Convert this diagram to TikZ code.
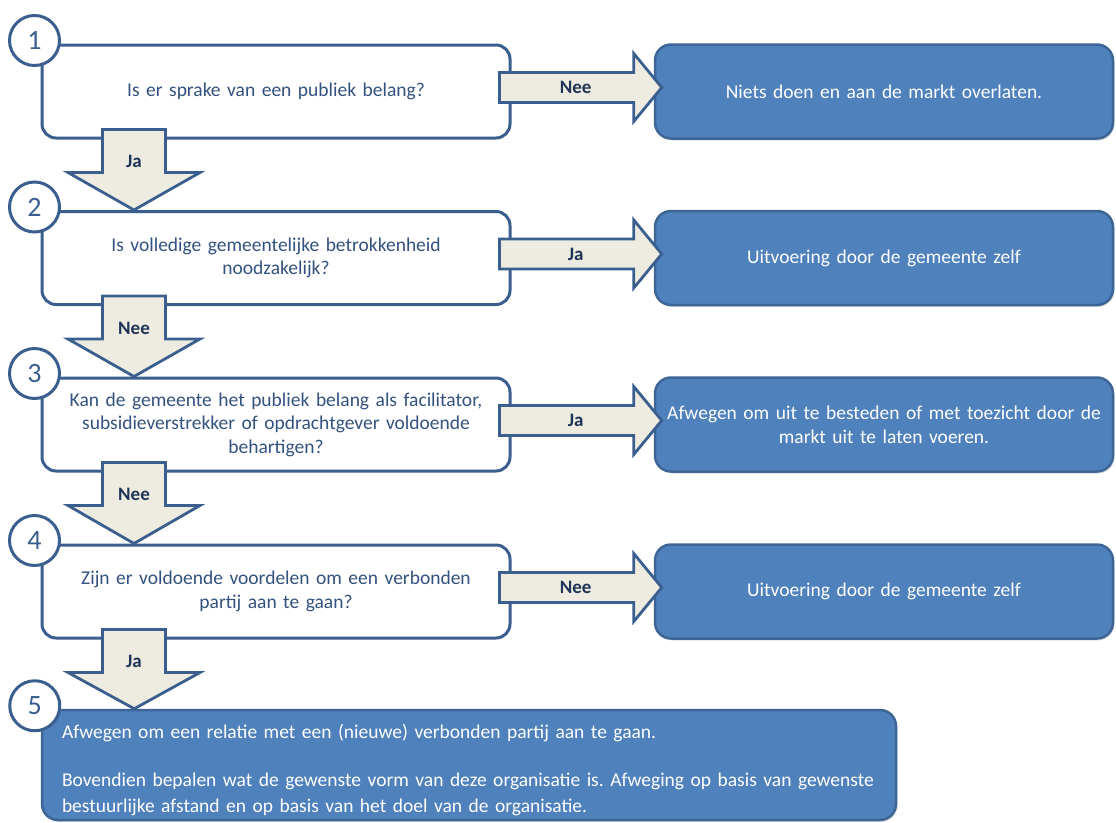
\documentclass[tikz,border=0pt]{standalone}
\usepackage{fontspec}
\setmainfont{Carlito}
\usetikzlibrary{calc,shadows}
\definecolor{bord}{HTML}{3A5F8E}
\definecolor{abord}{HTML}{3D6696}
\definecolor{ablue}{HTML}{4F81BD}
\definecolor{arrfill}{HTML}{EEECE1}
\definecolor{qtext}{HTML}{34527F}
\definecolor{labtext}{HTML}{1F3457}
\newcommand{\myRarr}[4]{%
  \draw[arr] ($(#1.east)+(-12,-19)$) -- ($(#2.west)+(-20,-19)$) -- ($(#2.west)+(-20,-38)$)
    -- ($(#2.west)+(8,-4)$) -- ($(#2.west)+(-20,30)$) -- ($(#2.west)+(-20,11)$)
    -- ($(#1.east)+(-12,11)$) -- cycle;
  \node[lab] (#4) at ($(#1.east)!0.5!(#2.west)+(-7,-4)$) {#3};
}
\newcommand{\myDarr}[4]{%
  \draw[arr] ($(#1.south west)+(62,-10)$) -- ($(#1.south west)+(125,-10)$) -- ($(#1.south west)+(125,33)$)
    -- ($(#1.south west)+(159.5,33)$) -- ($(#2.north west)+(93.5,0)$) -- ($(#1.south west)+(27.5,33)$)
    -- ($(#1.south west)+(62,33)$) -- cycle;
  \node[lab] (#4) at ($(#1.south west)+(93.5,22)$) {#3};
}
\begin{document}
\frenchspacing
\begin{tikzpicture}[x=1pt,y=-1pt,
  qbox/.style={draw=bord, line width=3pt, fill=white, rounded corners=14pt, minimum width=468pt, minimum height=93pt, text width=455pt, align=center, inner sep=0pt, text=qtext, font=\fontsize{19.5}{23.5}\selectfont},
  abox/.style={draw=abord, line width=2.5pt, fill=ablue, rounded corners=16pt, minimum width=458pt, minimum height=94pt, text width=452pt, align=center, inner sep=0pt, text=white, font=\fontsize{19.5}{24}\selectfont, drop shadow={shadow xshift=1.5pt, shadow yshift=-2pt, opacity=0.25}},
  num/.style={circle, draw=bord, line width=3pt, fill=white, minimum size=50pt, inner sep=0pt, text=bord, font=\fontsize{28}{30}\selectfont},
  arr/.style={draw=bord, fill=arrfill, line width=2.8pt, line join=miter},
  lab/.style={text=labtext, font=\bfseries\fontsize{19}{22}\selectfont, inner sep=0pt}]
\useasboundingbox (0,0) rectangle (1116,822);
% question boxes
\node[qbox] (q1) at (276,91.5) {Is er sprake van een publiek belang?};
\node[qbox] (q2) at (276,258) {Is volledige gemeentelijke betrokkenheid\\noodzakelijk?};
\node[qbox] (q3) at (276,424.5) {Kan de gemeente het publiek belang als facilitator,\\subsidieverstrekker of opdrachtgever voldoende\\behartigen?};
\node[qbox] (q4) at (276,591.5) {Zijn er voldoende voordelen om een verbonden\\partij aan te gaan?};
% answer boxes
\node[abox] (a1) at (884,91.5) {Niets doen en aan de markt overlaten.};
\node[abox] (a2) at (884,258) {Uitvoering door de gemeente zelf};
\node[abox] (a3) at (884,424.5) {Afwegen om uit te besteden of met toezicht door de\\markt uit te laten voeren.};
\node[abox] (a4) at (884,591.5) {Uitvoering door de gemeente zelf};
\node[abox, minimum width=854pt, minimum height=110pt, text width=814pt, align=left, font=\fontsize{19.5}{26}\selectfont] (q5) at (469,765)
  {\rule{0pt}{24pt}Afwegen om een relatie met een (nieuwe) verbonden partij aan te gaan.\\[22pt]Bovendien bepalen wat de gewenste vorm van deze organisatie is. Afweging op basis van gewenste\\bestuurlijke afstand en op basis van het doel van de organisatie.};
% arrows
\myRarr{q1}{a1}{Nee}{r1}
\myRarr{q2}{a2}{Ja}{r2}
\myRarr{q3}{a3}{Ja}{r3}
\myRarr{q4}{a4}{Nee}{r4}
\myDarr{q1}{q2}{Ja}{d1}
\myDarr{q2}{q3}{Nee}{d2}
\myDarr{q3}{q4}{Nee}{d3}
\myDarr{q4}{q5}{Ja}{d4}
% number circles
\node[num] (n1) at ($(q1.north west)+(-6,-3)$) {1};
\node[num] (n2) at ($(q2.north west)+(-6,-3)$) {2};
\node[num] (n3) at ($(q3.north west)+(-6,-3)$) {3};
\node[num] (n4) at ($(q4.north west)+(-6,-3)$) {4};
\node[num] (n5) at ($(q5.north west)+(-6,-3)$) {5};
\end{tikzpicture}
\end{document}
